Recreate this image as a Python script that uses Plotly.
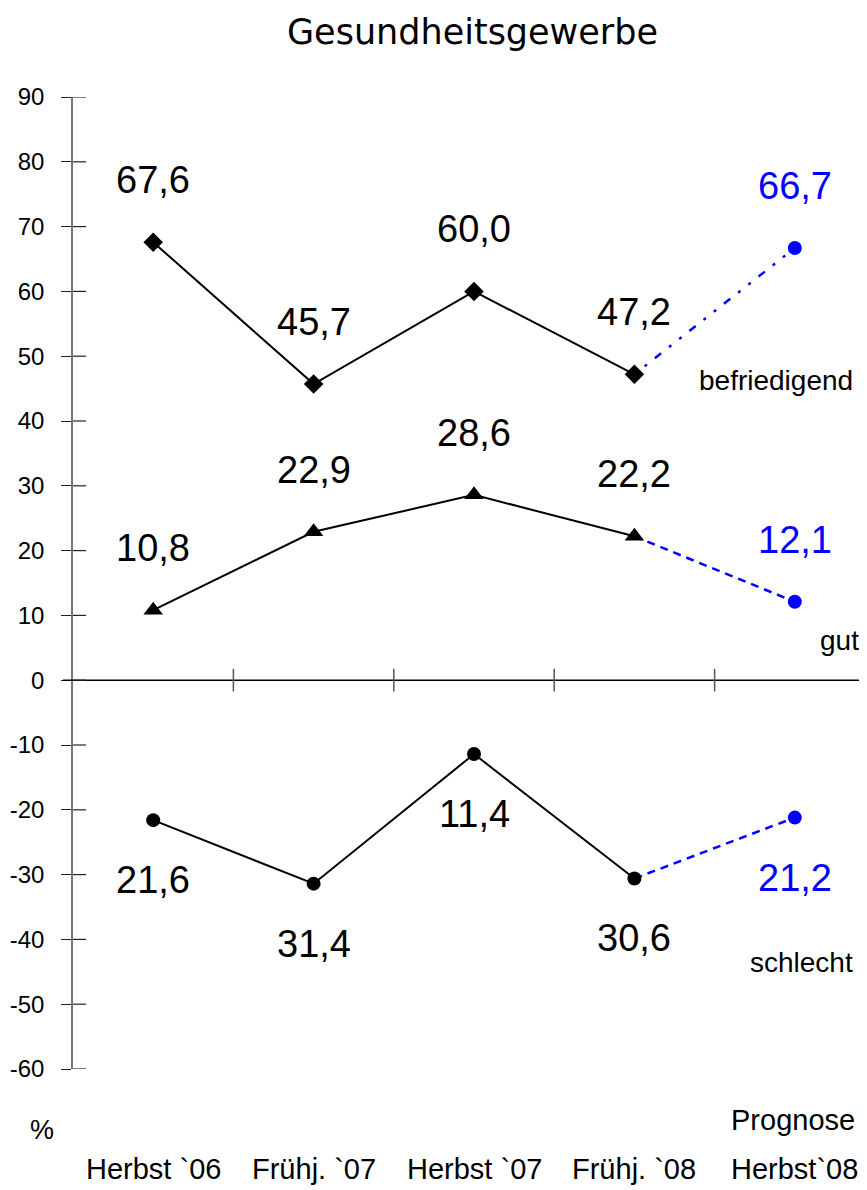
import plotly.graph_objects as go

categories = ["Herbst `06", "Frühj. `07", "Herbst `07", "Frühj. `08", "Herbst`08"]
befriedigend = [67.6, 45.7, 60.0, 47.2, 66.7]
gut = [10.8, 22.9, 28.6, 22.2, 12.1]
schlecht = [-21.6, -31.4, -11.4, -30.6, -21.2]
y_ticks = [90, 80, 70, 60, 50, 40, 30, 20, 10, 0, -10, -20, -30, -40, -50, -60]
y_ticktext = [str(t) for t in y_ticks]

# page offset (browser body margin)
OFF = 8
W, H = 867 - OFF, 1190 - OFF
L, T = 73 - OFF, 97 - OFF
PLOT_BOTTOM = 1069 - OFF
R = 0
B = H - PLOT_BOTTOM
PW, PH = W - L - R, PLOT_BOTTOM - T
BLUE = "#0000FF"
FONT = "Liberation Sans, Arial, sans-serif"


def px(p):
    return (p - OFF - L) / PW


def py(p):
    return (PLOT_BOTTOM - (p - OFF)) / PH


xs = list(range(len(categories)))
fig = go.Figure()

series = [
    (befriedigend, "diamond", 15, "3px,10px,3px,10px,8px,10px"),
    (gut, "triangle-up", 17, "8px,6px"),
    (schlecht, "circle", 14, "8px,6px"),
]

for vals, sym, msize, dash in series:
    fig.add_trace(go.Scatter(x=xs[3:5], y=vals[3:5], mode="lines",
                             line=dict(color=BLUE, width=2.5, dash=dash),
                             hoverinfo="skip", showlegend=False))
    fig.add_trace(go.Scatter(x=xs[4:5], y=vals[4:5], mode="markers",
                             marker=dict(color=BLUE, size=14, symbol="circle"),
                             showlegend=False))
    fig.add_trace(go.Scatter(x=xs[0:4], y=vals[0:4], mode="lines+markers",
                             line=dict(color="black", width=2),
                             marker=dict(color="black", size=msize, symbol=sym),
                             showlegend=False))

annotations = []


def fmt(v):
    return f"{abs(v):.1f}".replace(".", ",")


for vals, shift in [(befriedigend, 62), (gut, 62), (schlecht, -60)]:
    for i, v in enumerate(vals):
        annotations.append(dict(x=xs[i], y=v, xref="x", yref="y", text=fmt(v),
                                showarrow=False, yshift=shift, xanchor="center", yanchor="middle",
                                font=dict(family=FONT, size=38, color=BLUE if i == 4 else "black")))

for i, c in enumerate(categories):
    annotations.append(dict(x=xs[i], y=py(1169), xref="x", yref="paper", text=c, showarrow=False,
                            xanchor="center", yanchor="middle", font=dict(family=FONT, size=29, color="black")))

annotations += [
    dict(x=px(857), y=py(1120), xref="paper", yref="paper", text="Prognose", showarrow=False,
         xanchor="right", yanchor="middle", font=dict(family=FONT, size=29, color="black")),
    dict(x=px(42), y=py(1130), xref="paper", yref="paper", text="%", showarrow=False,
         xanchor="center", yanchor="middle", font=dict(family=FONT, size=27, color="black")),
    dict(x=px(855), y=py(380), xref="paper", yref="paper", text="befriedigend", showarrow=False,
         xanchor="right", yanchor="middle", font=dict(family=FONT, size=28, color="black")),
    dict(x=px(861), y=py(640), xref="paper", yref="paper", text="gut", showarrow=False,
         xanchor="right", yanchor="middle", font=dict(family=FONT, size=28, color="black")),
    dict(x=px(855), y=py(962), xref="paper", yref="paper", text="schlecht", showarrow=False,
         xanchor="right", yanchor="middle", font=dict(family=FONT, size=28, color="black")),
    dict(x=px(472), y=py(32), xref="paper", yref="paper", text="Gesundheitsgewerbe", showarrow=False,
         xanchor="center", yanchor="middle", font=dict(family="DejaVu Sans, sans-serif", size=35, color="black")),
]

shapes = []
shapes.append(dict(type="line", xref="paper", yref="y", x0=px(63), x1=1, y0=0, y1=0,
                   line=dict(color="black", width=1.5)))
for t in y_ticks:
    shapes.append(dict(type="line", xref="paper", yref="y", x0=0, x1=px(86), y0=t, y1=t,
                       line=dict(color="#222222", width=1.2)))
for i in range(len(categories) - 1):
    shapes.append(dict(type="line", xref="x", yref="y", x0=i + 0.5, x1=i + 0.5, y0=-1.75, y1=1.75,
                       line=dict(color="#555555", width=1.5)))

fig.update_layout(
    width=W, height=H,
    margin=dict(l=L, r=R, t=T, b=B, pad=0),
    plot_bgcolor="white", paper_bgcolor="white",
    xaxis=dict(range=[-0.5, 4.45], showgrid=False, zeroline=False, showticklabels=False,
               showline=False, ticks=""),
    yaxis=dict(range=[-60, 90], tickvals=y_ticks, ticktext=y_ticktext, showgrid=False, zeroline=False,
               showline=True, linecolor="#777777", linewidth=1.5,
               ticks="outside", ticklen=10, tickcolor="#222222", tickwidth=1.2,
               ticklabelstandoff=12,
               tickfont=dict(family=FONT, size=24, color="black")),
    annotations=annotations,
    shapes=shapes,
    showlegend=False,
)

fig.write_html("out.html")
